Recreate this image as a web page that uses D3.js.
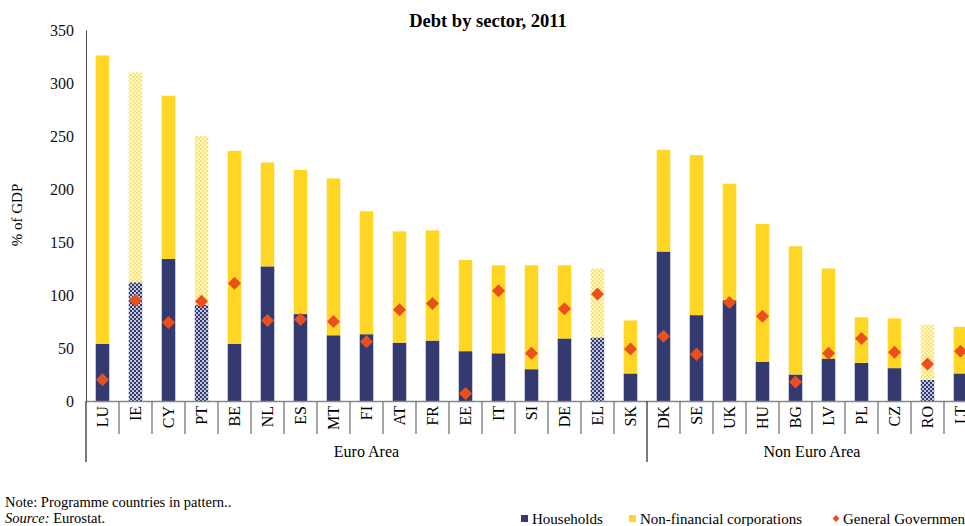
<!DOCTYPE html>
<html><head><meta charset="utf-8">
<script src="https://cdn.jsdelivr.net/npm/d3@7"></script>
<style>body{margin:0;background:#fff}svg{display:block}svg text{font-family:"Liberation Serif",Tinos,"Times New Roman",serif}</style>
</head><body>
<script>
const categories = ["LU","IE","CY","PT","BE","NL","ES","MT","FI","AT","FR","EE","IT","SI","DE","EL","SK","DK","SE","UK","HU","BG","LV","PL","CZ","RO","LT"];
const households = [54,112,134,91,54,127,82,62,63,55,57,47,45,30,59,60,26,141,81,95,37,25,40,36,31,20,26];
const totals =     [326,310,288,250,236,225,218,210,179,160,161,133,128,128,128,125,76,237,232,205,167,146,125,79,78,72,70];
const nonFinancial = totals.map((t,i)=>t-households[i]);
const generalGov = [20,95,74,94,111,76,77,75,56,86,92,7,104,45,87,101,49,61,44,93,80,18,45,59,46,35,47];
const programme = ["IE","PT","EL","RO"];
const groups = [{name:"Euro Area", from:"LU", to:"SK"},{name:"Non Euro Area", from:"DK", to:"LT"}];
const yTicks = [0,50,100,150,200,250,300,350];

const W=965,H=526;
const FONT='"Liberation Serif", Tinos, "Times New Roman", serif';
const svg=d3.select("body").append("svg").attr("width",W).attr("height",H).attr("font-family",FONT);
const defs=svg.append("defs");
function checker(id,a,b){
  const p=defs.append("pattern").attr("id",id).attr("width",4).attr("height",4).attr("patternUnits","userSpaceOnUse");
  p.append("rect").attr("width",4).attr("height",4).attr("fill",b);
  p.append("rect").attr("width",2).attr("height",2).attr("fill",a);
  p.append("rect").attr("x",2).attr("y",2).attr("width",2).attr("height",2).attr("fill",a);
}
const NAVY="#343a70", YEL="#fed623", ORG="#e9501b";
checker("pHH",NAVY,"#c3c5da");
checker("pNF","#fee36a","#fff8d6");

const x=d3.scaleBand().domain(categories).range([86,86+27*33]).paddingInner(0.59).paddingOuter(0.295);
const y=d3.scaleLinear().domain([0,350]).range([401,30]);

// title
svg.append("text").attr("x",488).attr("y",27).attr("text-anchor","middle").attr("font-weight","bold").attr("font-size",18.5).text("Debt by sector, 2011");

// y axis
const ya=svg.append("g").attr("transform","translate(86,0)").call(d3.axisLeft(y).tickValues(yTicks).tickSize(0).tickPadding(12));
ya.attr("font-family",FONT);
ya.select(".domain").attr("stroke","#444");
ya.selectAll("text").attr("font-size",16).attr("fill","#111");
svg.append("text").attr("transform","translate(22,215) rotate(-90)").attr("text-anchor","middle").attr("font-size",15).text("% of GDP");

// bars
const bars=svg.append("g");
categories.forEach((c,i)=>{
  const pat=programme.includes(c);
  bars.append("rect").attr("x",x(c)).attr("width",x.bandwidth()).attr("y",y(households[i])).attr("height",y(0)-y(households[i])).attr("fill",pat?"url(#pHH)":NAVY);
  bars.append("rect").attr("x",x(c)).attr("width",x.bandwidth()).attr("y",y(totals[i])).attr("height",y(households[i])-y(totals[i])).attr("fill",pat?"url(#pNF)":YEL);
});
// diamonds
svg.append("g").selectAll("path").data(categories).join("path")
  .attr("d",d3.symbol().type(d3.symbolSquare).size(85))
  .attr("transform",(c,i)=>`translate(${x(c)+x.bandwidth()/2},${y(generalGov[i])}) rotate(45)`)
  .attr("fill",ORG);

// x axis
svg.append("line").attr("x1",86).attr("x2",W).attr("y1",401.5).attr("y2",401.5).attr("stroke","#888").attr("stroke-width",1.5);
const step=x.step();
categories.forEach((c,i)=>{
  const bx=86+i*step;
  const isGroupStart=groups.some(g=>g.from===c);
  svg.append("line").attr("x1",bx).attr("x2",bx).attr("y1",401).attr("y2",isGroupStart?462:434).attr("stroke",isGroupStart?"#333":"#777").attr("stroke-width",1.3);
  svg.append("text").attr("transform",`translate(${x(c)+x.bandwidth()/2},406) rotate(-90)`).attr("text-anchor","end").attr("dy","0.35em").attr("font-size",16).text(c);
});
groups.forEach(g=>{
  const a=x(g.from)-x.paddingOuter()*step, b=x(g.to)+x.bandwidth()+x.paddingOuter()*step;
  svg.append("text").attr("x",(a+b)/2).attr("y",457).attr("text-anchor","middle").attr("font-size",16).text(g.name);
});

// notes
svg.append("text").attr("x",5).attr("y",507).attr("font-size",14.5).text("Note: Programme countries in pattern..");
const src=svg.append("text").attr("x",5).attr("y",522.5).attr("font-size",14.5);
src.append("tspan").attr("font-style","italic").text("Source:");
src.append("tspan").text(" Eurostat.");

// legend
const lg=svg.append("g").attr("font-size",15);
lg.append("rect").attr("x",521).attr("y",515).attr("width",7).attr("height",7).attr("fill",NAVY);
lg.append("text").attr("x",532).attr("y",524).text("Households");
lg.append("rect").attr("x",629).attr("y",515).attr("width",7).attr("height",7).attr("fill",YEL);
lg.append("text").attr("x",640).attr("y",524).text("Non-financial corporations");
lg.append("path").attr("d",d3.symbol().type(d3.symbolSquare).size(24)).attr("transform","translate(836,518.5) rotate(45)").attr("fill",ORG);
lg.append("text").attr("x",843).attr("y",524).text("General Government");
</script>
</body></html>
